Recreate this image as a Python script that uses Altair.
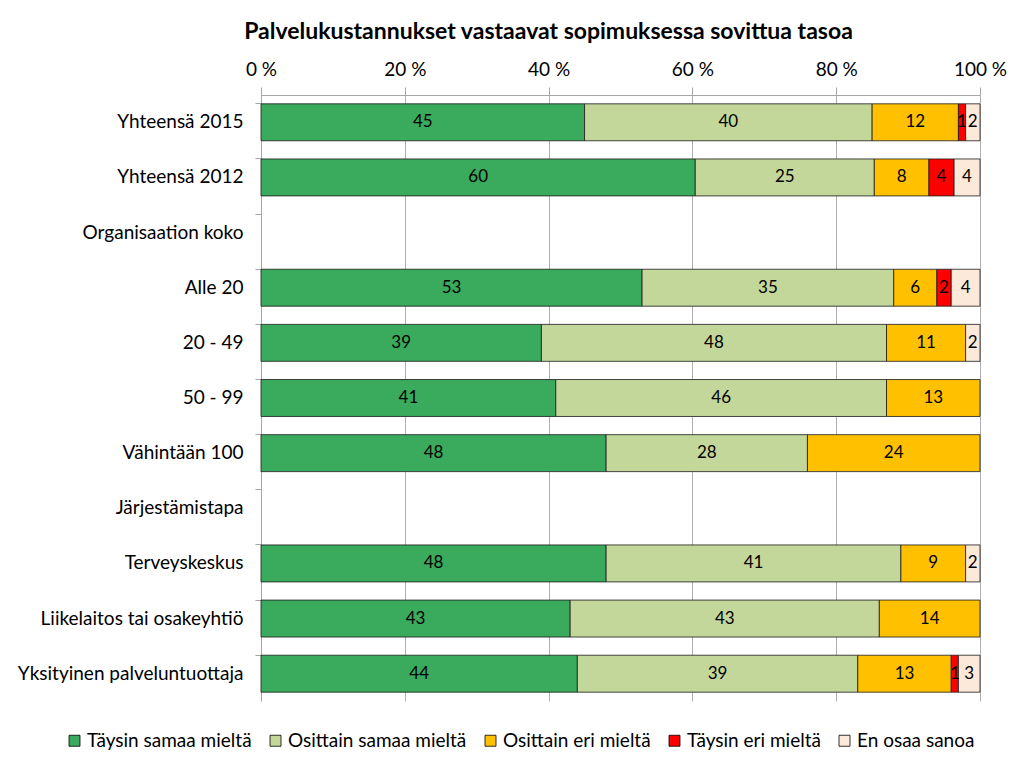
import altair as alt
import pandas as pd

rows = ["Yhteensä 2015", "Yhteensä 2012", "Organisaation koko", "Alle  20", "20 - 49",
        "50 - 99", "Vähintään 100", "Järjestämistapa", "Terveyskeskus",
        "Liikelaitos tai osakeyhtiö", "Yksityinen palveluntuottaja"]
series = ["Täysin samaa mieltä", "Osittain samaa mieltä", "Osittain eri mieltä",
          "Täysin eri mieltä", "En osaa sanoa"]
colors = ["#3AAA5C", "#C4D79B", "#FFC000", "#FF0000", "#FDE9D9"]

taysin_samaa = [45, 60.4, 0, 53, 39, 41, 48, 0, 48, 43, 44]
osittain_samaa = [40, 24.9, 0, 35, 48, 46, 28, 0, 41, 43, 39]
osittain_eri = [12, 7.6, 0, 6, 11, 13, 24, 0, 9, 14, 13]
taysin_eri = [1, 3.5, 0, 2, 0, 0, 0, 0, 0, 0, 1]
en_osaa = [2, 3.6, 0, 4, 2, 0, 0, 0, 2, 0, 3]

cols = [taysin_samaa, osittain_samaa, osittain_eri, taysin_eri, en_osaa]
recs = []
for si, (s, vals) in enumerate(zip(series, cols)):
    for r, v in zip(rows, vals):
        recs.append({"row": r, "series": s, "order": si, "value": v})
df = pd.DataFrame(recs)

FONT = "Lato"

base = alt.Chart(df).transform_filter(alt.datum.value > 0).transform_stack(
    stack="value", groupby=["row"], as_=["x0", "x1"],
    sort=[alt.SortField("order", order="ascending")]
).transform_calculate(mid="(datum.x0 + datum.x1) / 2", label="format(datum.value, '.0f')")

yenc = alt.Y("row:N", sort=rows, title=None,
             scale=alt.Scale(domain=rows, paddingInner=0.33, paddingOuter=0.16),
             axis=alt.Axis(labelFontSize=19, labelFont=FONT, labelColor="#000000",
                           bandPosition=0, tickSize=6, tickColor="#A6A6A6",
                           domainColor="#A6A6A6", labelPadding=12, labelLimit=400,
                           minExtent=248, maxExtent=248, grid=False))

bars = base.mark_bar(stroke="#1a1a1a", strokeWidth=0.8).encode(
    x=alt.X("x0:Q", title=None, scale=alt.Scale(domain=[0, 100]),
            axis=alt.Axis(orient="top", values=[0, 20, 40, 60, 80, 100],
                          labelExpr="datum.value + ' %'", labelFontSize=19,
                          labelFont=FONT, labelColor="#000000", tickSize=8,
                          tickColor="#A6A6A6", domainColor="#A6A6A6", labelFlush=False,
                          grid=True, gridColor="#B0B0B0", labelPadding=8)),
    x2="x1:Q",
    y=yenc,
    color=alt.Color("series:N", sort=series,
                    scale=alt.Scale(domain=series, range=colors),
                    legend=alt.Legend(title=None, orient="none", direction="horizontal",
                                      legendX=-196, legendY=636,
                                      symbolType="square", symbolSize=121,
                                      symbolStrokeColor="#000000", symbolStrokeWidth=0.8,
                                      labelFontSize=19, labelFont=FONT, labelColor="#000000",
                                      labelLimit=400, columnPadding=14, labelOffset=3)),
)

texts = base.mark_text(fontSize=17, font=FONT, color="#000000").encode(
    x="mid:Q",
    y=alt.Y("row:N", sort=rows),
    text="label:N",
)

chart = (bars + texts).properties(
    width=719, height=606,
    padding={"left": 5, "top": 13, "right": 5, "bottom": 2},
    title=alt.Title("Palvelukustannukset vastaavat sopimuksessa sovittua tasoa",
                    fontSize=23, font=FONT, fontWeight="bold", color="#000000",
                    offset=16, dx=-72),
).configure_view(stroke=None)

chart.save("out.html", embed_options={"renderer": "svg", "actions": False})
